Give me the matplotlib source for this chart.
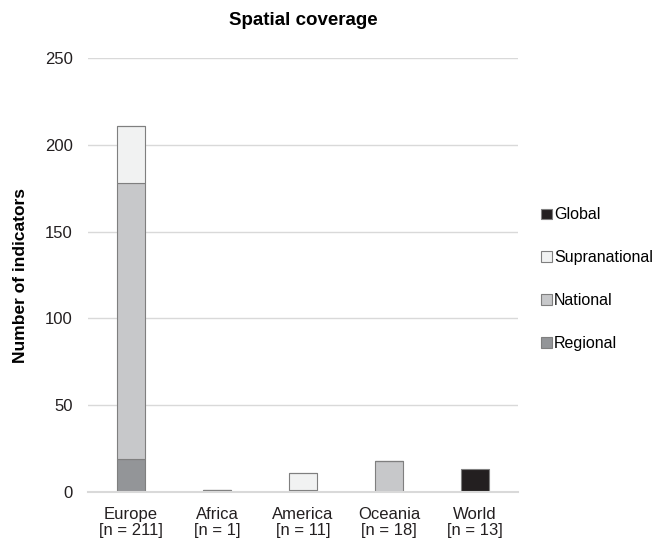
import numpy as np
import matplotlib.pyplot as plt
from matplotlib.patches import Patch

plt.rcParams['font.family'] = ['Liberation Sans', 'DejaVu Sans']

# 数据
regions = ['Europe', 'Africa', 'America', 'Oceania', 'World']
totals = [211, 1, 11, 18, 13]
regional = [19, 0, 0, 0, 0]
national = [159, 1, 1, 18, 0]
supranational = [33, 0, 10, 0, 0]
global_ = [0, 0, 0, 0, 13]

series = [('Regional', regional, '#939598'),
          ('National', national, '#c7c8ca'),
          ('Supranational', supranational, '#f1f2f2'),
          ('Global', global_, '#231f20')]

fig = plt.figure(figsize=(6.56, 5.41), dpi=100)
ax = fig.add_axes([0.134, 0.0906, 0.656, 0.802])

x = np.arange(len(regions))
bottom = np.zeros(len(regions))
for name, vals, color in series:
    vals = np.array(vals, dtype=float)
    ax.bar(x, vals, width=0.32, bottom=bottom, color=color,
           edgecolor='#7f7f7f', linewidth=0.8, zorder=3)
    bottom += vals

ax.set_ylim(0, 250)
ax.set_xlim(-0.5, len(regions) - 0.5)
ax.set_yticks(range(0, 251, 50))
ax.yaxis.grid(True, color='#d9d9d9', linewidth=1)
ax.set_axisbelow(True)
for s in ['top', 'right', 'left']:
    ax.spines[s].set_visible(False)
ax.spines['bottom'].set_color('#d9d9d9')
ax.spines['bottom'].set_linewidth(1.5)
ax.spines['bottom'].set_zorder(4)
ax.tick_params(axis='both', length=0, labelsize=12, colors='#231f20')
ax.tick_params(axis='y', pad=11)
ax.tick_params(axis='x', pad=11)
ax.set_xticks(x)
ax.set_xticklabels(['%s\n[n = %d]' % (r, n) for r, n in zip(regions, totals)],
                   linespacing=1.1)

ax.set_ylabel('Number of indicators', fontsize=12.5, fontweight='bold')
ax.yaxis.set_label_coords(-0.14, 0.5)
ax.set_title('Spatial coverage', fontsize=13.5, fontweight='bold', pad=24)

handles = [Patch(facecolor=c, edgecolor='#7f7f7f', linewidth=0.8, label=n)
           for n, v, c in series][::-1]
ax.legend(handles=handles, loc='center left', bbox_to_anchor=(1.028, 0.49),
          frameon=False, fontsize=11.5, handlelength=0.65, handleheight=0.65,
          handletextpad=0.15, labelspacing=1.75, borderaxespad=0.3)

fig.savefig('out.png', dpi=100)
